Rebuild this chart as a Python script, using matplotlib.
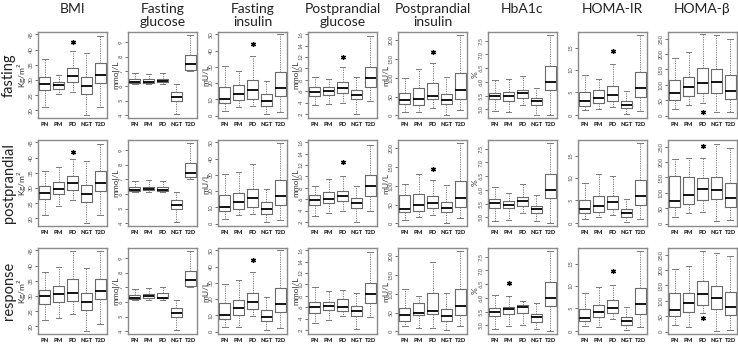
import matplotlib
matplotlib.use("Agg")
import matplotlib.pyplot as plt
import numpy as np

plt.rcParams['font.family'] = ['Lato', 'DejaVu Sans']

groups = ["PN", "PM", "PD", "NGT", "T2D"]
rows = ["fasting", "postprandial", "response"]
titles = ["BMI", "Fasting\nglucose", "Fasting\ninsulin", "Postprandial\nglucose",
          "Postprandial\ninsulin", "HbA1c", "HOMA-IR", "HOMA-β"]
units = [r"Kg/m$^2$", "mmol/L", "mU/L", "mmol/L", "mU/L", "%", "", ""]
yticks = [[20, 25, 30, 35, 40, 45], [4, 5, 6, 7, 8, 9], [0, 10, 20, 30, 40, 50],
          [2, 4, 6, 8, 10, 12, 14, 16], [0, 50, 100, 150, 200],
          [5.0, 5.5, 6.0, 6.5, 7.0, 7.5], [0, 5, 10, 15], [0, 50, 100, 150, 200, 250]]
ytick_labels = [[str(t) for t in yticks[0]], [str(t) for t in yticks[1]],
                [str(t) for t in yticks[2]], [str(t) for t in yticks[3]],
                [str(t) for t in yticks[4]], ["5.0", "5.5", "6.0", "6.5", "7.0", "7.5"],
                [str(t) for t in yticks[6]], [str(t) for t in yticks[7]]]

# box stats per group: (whisker low, q1, median, q3, whisker high)
bmi_fast = [(21, 26.8, 28.6, 31, 37), (25.5, 27, 28.3, 29.5, 31.5), (26, 29.5, 31.2, 34, 39.5),
            (18.5, 25.5, 28, 31, 39), (21, 29, 31.5, 35.5, 44.5)]
bmi_post = [(21, 26.5, 28.5, 30.5, 35.5), (24, 28, 29.8, 32, 37), (26, 29.5, 31.5, 34, 39.5),
            (18.5, 25.5, 28, 31, 39), (21, 29, 31.5, 35.5, 44.5)]
bmi_resp = [(22, 27.5, 29.9, 32, 38), (22.7, 28.1, 30.5, 33.2, 39.5), (24, 28.4, 30.9, 35.6, 44.9),
            (18.5, 25.5, 28.1, 31.1, 39.1), (20.7, 29.1, 31.7, 35.5, 44.7)]

fglu_fast = [(6.1, 6.2, 6.3, 6.45, 6.9), (6.1, 6.2, 6.3, 6.45, 6.85), (6.1, 6.25, 6.35, 6.5, 6.9),
             (4.1, 4.95, 5.25, 5.6, 6.1), (7.0, 7.1, 7.5, 8.1, 9.5)]
fglu_post = [(6.1, 6.2, 6.3, 6.45, 6.9), (6.1, 6.25, 6.35, 6.5, 6.95), (6.1, 6.2, 6.3, 6.45, 6.9),
             (4.1, 4.95, 5.25, 5.6, 6.1), (7.0, 7.15, 7.45, 8.1, 9.5)]
fglu_resp = [(6.1, 6.2, 6.3, 6.45, 6.9), (6.1, 6.3, 6.4, 6.55, 6.95), (6.1, 6.25, 6.3, 6.6, 7.0),
             (4.1, 4.95, 5.25, 5.6, 6.1), (7.0, 7.1, 7.5, 8.1, 9.5)]

fins_fast = [(3, 7.5, 10, 17.5, 30.5), (5, 9.5, 13.5, 19, 27.5), (6, 10.5, 15.5, 22, 37),
             (1, 6, 9, 13, 21), (2, 12, 17, 27, 50)]
fins_post = [(3, 7.5, 10, 17.5, 30.5), (5, 9, 13, 19, 32), (6, 10.5, 16, 21.5, 37),
             (1, 6, 9, 13, 21), (2, 11.5, 17, 27, 49.5)]
fins_resp = [(3, 7.5, 10.5, 17.5, 29.5), (3, 10, 14.5, 19.5, 32), (9.5, 14, 18, 23.5, 37),
             (1, 6.5, 9, 13, 21), (2, 12, 17, 27, 50)]

pglu_fast = [(3.5, 5.2, 5.9, 6.7, 8.5), (3.7, 5.3, 6.0, 6.7, 8.2), (4.0, 5.7, 6.6, 7.7, 10.3),
             (2.0, 4.6, 5.4, 6.3, 8.5), (4.2, 6.8, 8.4, 10.3, 15.7)]
pglu_post = [(3.0, 5.0, 5.8, 6.8, 8.4), (3.5, 5.3, 6.0, 7.2, 9.5), (4.0, 5.7, 6.5, 7.5, 10.0),
             (2.0, 4.4, 5.3, 6.3, 8.4), (4.0, 6.5, 8.3, 10.2, 15.6)]
pglu_resp = [(3.2, 5.0, 6.1, 7.0, 9.6), (3.7, 5.6, 6.2, 7.0, 8.9), (4.4, 5.3, 6.0, 7.4, 9.1),
             (2.1, 4.4, 5.4, 6.3, 8.5), (4.2, 6.7, 8.4, 10.3, 15.7)]

pins_fast = [(10, 30, 40, 60, 100), (10, 28, 43, 73, 123), (20, 43, 52, 86, 140),
             (2, 30, 40, 57, 102), (15, 43, 67, 112, 213)]
pins_post = [(10, 30, 38, 76, 105), (18, 33, 48, 77, 132), (22, 42, 53, 73, 116),
             (2, 30, 40, 57, 103), (15, 43, 67, 113, 212)]
pins_resp = [(15, 28, 43, 63, 113), (10, 43, 50, 76, 95), (10, 45, 55, 103, 185),
             (3, 27, 40, 58, 101), (15, 43, 68, 113, 212)]

hba_fast = [(4.95, 5.37, 5.5, 5.6, 6.05), (4.9, 5.3, 5.47, 5.62, 6.12), (5.15, 5.42, 5.58, 5.7, 6.2),
            (4.8, 5.15, 5.3, 5.42, 5.78), (4.8, 5.7, 6.0, 6.58, 7.7)]
hba_post = [(4.85, 5.33, 5.52, 5.65, 6.1), (4.9, 5.32, 5.45, 5.58, 5.9), (5.15, 5.4, 5.6, 5.75, 6.2),
            (4.85, 5.15, 5.3, 5.42, 5.8), (4.8, 5.7, 6.0, 6.58, 7.7)]
hba_resp = [(4.85, 5.32, 5.47, 5.62, 6.12), (4.97, 5.42, 5.6, 5.68, 6.05), (5.0, 5.45, 5.65, 5.75, 5.88),
            (4.85, 5.12, 5.3, 5.42, 5.8), (4.8, 5.7, 6.0, 6.58, 7.7)]

hir_fast = [(1.0, 2.0, 3.0, 5.0, 8.8), (1.4, 2.6, 3.8, 5.5, 8.1), (1.7, 3.0, 4.5, 6.5, 11.3),
            (0.3, 1.5, 2.2, 3.2, 5.4), (0.8, 4.0, 6.0, 9.5, 17.8)]
hir_post = [(0.8, 2.2, 3.0, 5.2, 8.8), (1.4, 2.5, 3.8, 6.0, 10.9), (1.7, 3.0, 4.6, 6.0, 10.4),
            (0.2, 1.4, 2.2, 3.2, 5.4), (0.8, 4.0, 6.0, 9.5, 17.8)]
hir_resp = [(1.0, 2.2, 2.9, 4.8, 8.4), (0.8, 3.0, 4.3, 5.8, 9.7), (2.7, 3.9, 5.0, 6.8, 10.3),
            (0.2, 1.4, 2.2, 3.2, 5.4), (0.8, 3.8, 6.0, 9.5, 17.8)]

hb_fast = [(20, 52, 73, 116, 186), (35, 63, 93, 127, 208), (40, 73, 105, 156, 265),
           (10, 75, 109, 150, 262), (12, 53, 81, 131, 250)]
hb_post = [(22, 55, 74, 154, 211), (35, 65, 93, 152, 212), (39, 76, 112, 147, 212),
           (8, 79, 109, 150, 259), (10, 54, 82, 131, 246)]
hb_resp = [(20, 51, 70, 126, 205), (16, 65, 94, 126, 213), (60, 88, 123, 164, 262),
           (3, 75, 108, 147, 255), (6, 53, 79, 130, 245)]

panels = [[bmi_fast, fglu_fast, fins_fast, pglu_fast, pins_fast, hba_fast, hir_fast, hb_fast],
          [bmi_post, fglu_post, fins_post, pglu_post, pins_post, hba_post, hir_post, hb_post],
          [bmi_resp, fglu_resp, fins_resp, pglu_resp, pins_resp, hba_resp, hir_resp, hb_resp]]

# significance asterisks: (row, column, group index, value)
star_row = [0, 0, 0, 0, 0, 0, 1, 1, 1, 1, 2, 2, 2, 2]
star_col = [0, 2, 3, 4, 6, 7, 0, 3, 4, 7, 2, 5, 6, 7]
star_grp = [2, 2, 2, 2, 2, 2, 2, 2, 2, 2, 2, 1, 2, 2]
star_val = [42.5, 44, 12, 168, 14.2, 10, 42, 12.5, 143, 252, 44, 6.55, 13.4, 43]

ylims = [(17.5, 45.8), (3.8, 9.7), (-1.5, 51.5), (1.3, 16.4), (-7, 221),
         (4.68, 7.82), (-0.7, 18.5), (-8, 272)]

W, H = 738, 352
fig = plt.figure(figsize=(W / 100, H / 100), dpi=100)
col_left = [38 + 90 * i for i in range(8)]
row_top = [32, 140, 248]
pw, ph = 69, 86

edge = "#6a6a6a"
wcol = "#7a7a7a"
axes = {}
for r in range(3):
    for c in range(8):
        ax = fig.add_axes([col_left[c] / W, 1 - (row_top[r] + ph) / H, pw / W, ph / H])
        stats = []
        for g, s in zip(groups, panels[r][c]):
            stats.append(dict(label=g, whislo=s[0], q1=s[1], med=s[2], q3=s[3], whishi=s[4], fliers=[]))
        ax.bxp(stats, positions=np.arange(1, 6), widths=0.8, showfliers=False,
               boxprops=dict(color=edge, linewidth=0.8),
               whiskerprops=dict(color=wcol, linewidth=0.7, linestyle=(0, (1.2, 1.2))),
               capprops=dict(color=wcol, linewidth=0.7),
               medianprops=dict(color="black", linewidth=1.3))
        ax.set_xlim(0.5, 5.5)
        ax.set_ylim(*ylims[c])
        ax.set_yticks(yticks[c])
        ax.set_yticklabels(ytick_labels[c])
        for lab in ax.get_yticklabels():
            lab.set_rotation(90)
            lab.set_va("center")
            lab.set_ha("right")
        ax.tick_params(axis="y", labelsize=4.2, length=2, width=0.6, colors="#555555", pad=1)
        ax.tick_params(axis="x", labelsize=4.2, length=0, colors="#333333", pad=3)
        for lab in ax.get_xticklabels():
            lab.set_fontweight("heavy")
        for sp in ax.spines.values():
            sp.set_color("#8a8a8a")
            sp.set_linewidth(1.0)
        if units[c]:
            ax.set_ylabel(units[c], fontsize=6, color="#333333")
            ax.yaxis.set_label_coords(-0.13, 0.5)
        axes[(r, c)] = ax

for r, c, g, v in zip(star_row, star_col, star_grp, star_val):
    axes[(r, c)].plot(g + 1, v, marker=(6, 2, 0), ms=3.6, mew=0.9, color="black", ls="none")

for c in range(8):
    fig.text((col_left[c] + pw / 2) / W, 1 - 3 / H, titles[c], ha="center", va="top",
             fontsize=10, linespacing=1.15, color="#222222")

for r in range(3):
    fig.text(9 / W, 1 - (row_top[r] + ph / 2) / H, rows[r], rotation=90, ha="center", va="center",
             fontsize=10.5, color="#222222")

fig.savefig("out.png", dpi=100)
